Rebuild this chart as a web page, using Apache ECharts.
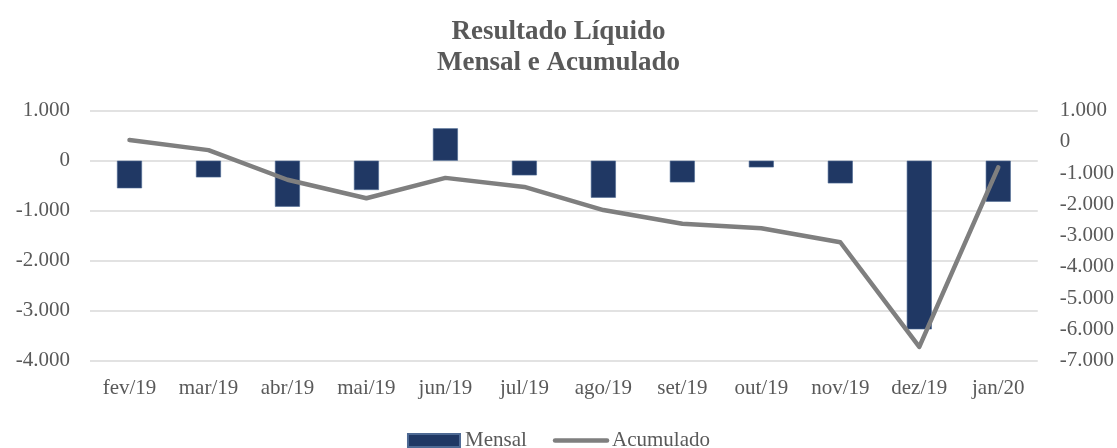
<!DOCTYPE html>
<html>
<head>
<meta charset="utf-8">
<title>Resultado Líquido</title>
<script src="https://cdn.jsdelivr.net/npm/echarts@6/dist/echarts.min.js"></script>
<style>
  html, body {
    margin: 0;
    padding: 0;
    background: #FFFFFF;
  }
  #main {
    width: 1117px;
    height: 448px;
  }
</style>
</head>
<body>
<div id="main"></div>
<script>
  var meses = ['fev/19', 'mar/19', 'abr/19', 'mai/19', 'jun/19', 'jul/19', 'ago/19', 'set/19', 'out/19', 'nov/19', 'dez/19', 'jan/20']
  var mensal = [-552, -333, -920, -586, 648, -293, -740, -433, -133, -453, -3373, -820]
  var acumulado = [62, -262, -1210, -1800, -1150, -1440, -2180, -2620, -2760, -3210, -6560, -815]

  var fonte = 'Liberation Serif'
  var cinza = '#595959'

  // 1000 -> "1.000"
  function formatNum(v) {
    var s = String(Math.abs(v)).replace(/\B(?=(\d{3})+(?!\d))/g, '.')
    return (v < 0 ? '-' : '') + s
  }

  var chart = echarts.init(document.getElementById('main'))
  chart.setOption({
    animation: false,
    title: {
      text: 'Resultado Líquido\nMensal e Acumulado',
      left: 'center',
      top: 12,
      textStyle: {
        fontFamily: fonte,
        fontSize: 27,
        fontWeight: 'bold',
        lineHeight: 31,
        color: cinza
      }
    },
    legend: {
      bottom: -8,
      left: 'center',
      itemGap: 26,
      itemWidth: 52,
      itemHeight: 13,
      textStyle: {
        fontFamily: fonte,
        fontSize: 21,
        color: cinza
      },
      data: [
        { name: 'Mensal', icon: 'rect' },
        {
          name: 'Acumulado',
          itemStyle: { opacity: 0 },
          lineStyle: { width: 4.5, cap: 'round', color: '#7F7F7F' }
        }
      ]
    },
    grid: {
      left: 90,
      right: 79,
      top: 110.7,
      bottom: 87.3
    },
    xAxis: {
      type: 'category',
      data: meses,
      axisLine: { show: false },
      axisTick: { show: false },
      axisLabel: {
        margin: 17,
        fontFamily: fonte,
        fontSize: 21,
        color: cinza
      }
    },
    yAxis: [
      {
        type: 'value',
        min: -4000,
        max: 1000,
        interval: 1000,
        axisLabel: {
          margin: 20,
          fontFamily: fonte,
          fontSize: 21,
          color: cinza,
          formatter: formatNum
        },
        splitLine: {
          lineStyle: { color: '#D9D9D9', width: 1.5 }
        }
      },
      {
        type: 'value',
        min: -7000,
        max: 1000,
        interval: 1000,
        axisLabel: {
          margin: 22,
          fontFamily: fonte,
          fontSize: 21,
          color: cinza,
          formatter: formatNum
        },
        splitLine: { show: false }
      }
    ],
    series: [
      {
        name: 'Mensal',
        type: 'bar',
        data: mensal,
        barWidth: 25,
        itemStyle: {
          color: '#203864',
          borderColor: '#4E6A94',
          borderWidth: 0.6
        }
      },
      {
        name: 'Acumulado',
        type: 'line',
        yAxisIndex: 1,
        data: acumulado,
        symbol: 'none',
        lineStyle: {
          color: '#7F7F7F',
          width: 4.5,
          cap: 'round',
          join: 'round'
        },
        itemStyle: { color: '#7F7F7F' }
      }
    ]
  })
</script>
</body>
</html>
